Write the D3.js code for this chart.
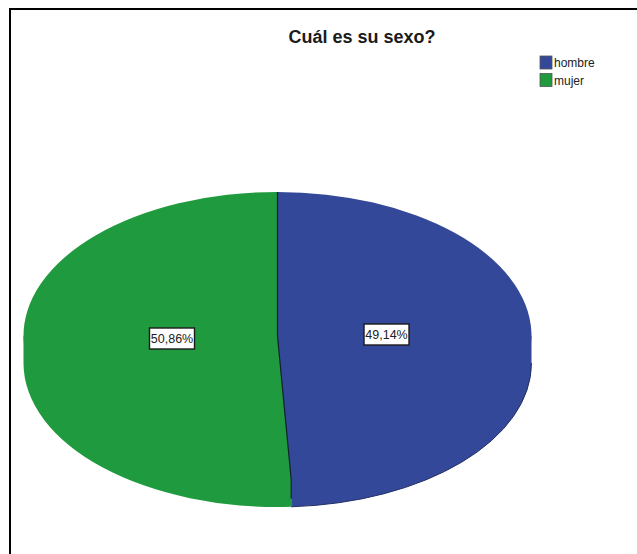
<!DOCTYPE html>
<html>
<head>
<meta charset="utf-8">
<script src="https://cdn.jsdelivr.net/npm/d3@7"></script>
<style>
body { margin: 0; background: #fff; }
text { font-family: "Liberation Sans", Arial, sans-serif; }
</style>
</head>
<body>
<div id="chart"></div>
<script>
// Data
const categories = ["hombre", "mujer"];
const percents = [49.14, 50.86];
const percentLabels = ["49,14%", "50,86%"];
const colors = ["#34489a", "#1f9a3f"];

const width = 637;
const height = 554;
const cx = 277.5, cy = 336, rx = 254, ry = 144, depth = 27;

const svg = d3.select("#chart").append("svg")
    .attr("width", width)
    .attr("height", height)
    .style("display", "block");

// Frame of the chart: only the top and left sides show in the picture
svg.append("path")
    .attr("d", `M10,${height} V9 H${width}`)
    .attr("fill", "none")
    .attr("stroke", "#000")
    .attr("stroke-width", 2);

svg.append("text")
    .attr("x", 362)
    .attr("y", 43)
    .attr("text-anchor", "middle")
    .attr("font-size", 18)
    .attr("font-weight", "bold")
    .attr("fill", "#1a1a1a")
    .text("Cuál es su sexo?");

// Pie slices, clockwise from the top like the original
const slices = d3.pie().sort(null).value(d => d)(percents);
const arc = d3.arc().innerRadius(0).outerRadius(rx);

// Point on the ellipse for an angle measured clockwise from the top
const px = a => cx + rx * Math.sin(a);
const py = a => cy - ry * Math.cos(a);

// Side wall of the part of each slice that faces the viewer. It runs in under
// the top face to the centre, so no seam shows along the edge of the top face
function sidePath(d) {
    const a0 = Math.max(d.startAngle, Math.PI / 2);
    const a1 = Math.min(d.endAngle, Math.PI * 1.5);
    if (a0 >= a1) return "";
    return `M${cx},${cy} L${px(a0)},${py(a0)} V${py(a0) + depth}` +
        ` A${rx},${ry} 0 0 1 ${px(a1)},${py(a1) + depth} V${py(a1)} Z`;
}

svg.append("g").selectAll("path")
    .data(slices)
    .enter().append("path")
    .attr("d", sidePath)
    .attr("fill", (d, i) => colors[i]);

svg.append("g")
    .attr("transform", `translate(${cx},${cy}) scale(1,${ry / rx})`)
    .selectAll("path")
    .data(slices)
    .enter().append("path")
    .attr("d", arc)
    .attr("fill", (d, i) => colors[i]);

// Dark line between the slices, down the top face and the side wall
const splitAngle = slices[1].startAngle;
svg.append("path")
    .attr("d", `M${cx},${cy - ry} V${cy} L${px(splitAngle)},${py(splitAngle)} V${py(splitAngle) + depth - 8}`)
    .attr("fill", "none")
    .attr("stroke", "#10202a")
    .attr("stroke-width", 1.2);

// Dark edge along the lower right of the blue slice
svg.append("path")
    .attr("d", `M${px(Math.PI / 2)},${py(Math.PI / 2) + depth} A${rx},${ry} 0 0 1 ${px(splitAngle)},${py(splitAngle) + depth}`)
    .attr("fill", "none")
    .attr("stroke", "#232f66")
    .attr("stroke-width", 1);

// Percent labels in white boxes
const labelX = [386.5, 172];
const labelY = [334.5, 338.5];
const labels = svg.append("g").selectAll("g")
    .data(percentLabels)
    .enter().append("g")
    .attr("transform", (d, i) => `translate(${labelX[i]},${labelY[i]})`);

labels.append("rect")
    .attr("x", -22.5)
    .attr("y", -10.5)
    .attr("width", 45)
    .attr("height", 21)
    .attr("fill", "#fff")
    .attr("stroke", "#1a1a1a")
    .attr("stroke-width", 1.4);

labels.append("text")
    .attr("text-anchor", "middle")
    .attr("y", 4.5)
    .attr("font-size", 12.5)
    .attr("fill", "#222")
    .text(d => d);

// Legend
const legend = svg.append("g").selectAll("g")
    .data(categories)
    .enter().append("g")
    .attr("transform", (d, i) => `translate(540,${56 + i * 17.5})`);

legend.append("rect")
    .attr("width", 12)
    .attr("height", 13)
    .attr("fill", (d, i) => colors[i])
    .attr("stroke", "#555")
    .attr("stroke-width", 0.8);

legend.append("text")
    .attr("x", 14)
    .attr("y", 11)
    .attr("font-size", 12)
    .attr("fill", "#222")
    .text(d => d);
</script>
</body>
</html>
